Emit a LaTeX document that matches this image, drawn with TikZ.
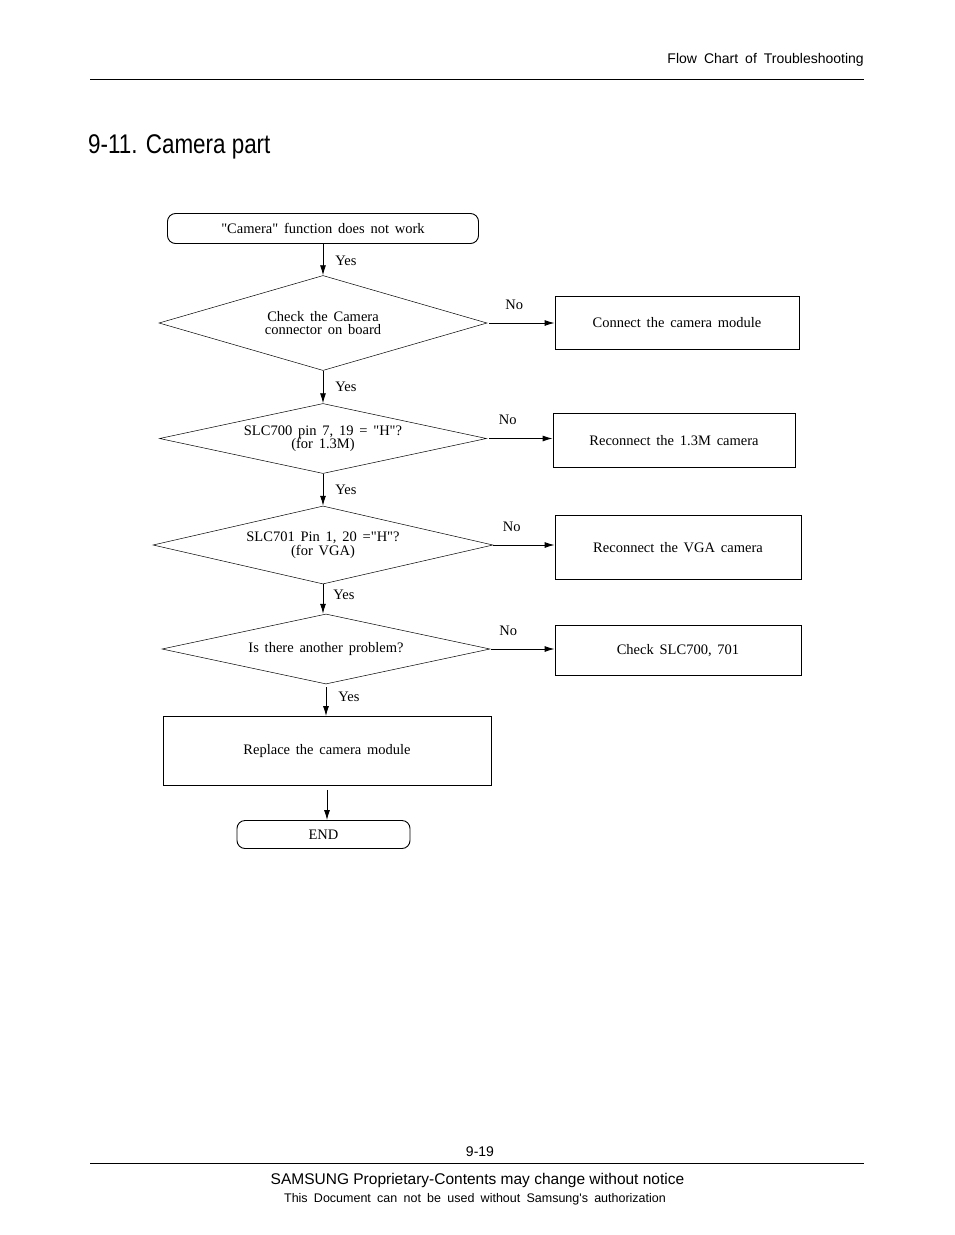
\documentclass[tikz,border=0pt]{standalone}
\usepackage{fontspec}
\setmainfont{Liberation Serif}[WordSpace=1.6,Ligatures=TeXOff]
\newfontfamily\footfont{Liberation Sans}[Ligatures=TeXOff]
\newfontfamily\titlefont{Liberation Sans}[FakeStretch=0.83]
\usetikzlibrary{arrows.meta,shapes.geometric}
\newcommand{\widespace}[1]{\spaceskip=#1\relax}

\begin{document}
\begin{tikzpicture}[x=1pt,y=-1pt,
		every node/.style={font=\fontsize{14.5}{13.5}\selectfont},
		startstop/.style={draw,line width=0.9pt,rounded corners=8pt,inner sep=0pt},
		decision/.style={draw,diamond,line width=0.5pt,inner sep=0pt,align=center},
		process/.style={draw,line width=0.9pt,inner sep=0pt,align=center},
		flow/.style={line width=0.9pt,-{Latex[length=10pt,width=6pt]}},
		yeslabel/.style={right=12pt,inner sep=0pt,font=\fontsize{14.5}{14}\selectfont},
		nolabel/.style={above=13pt,inner sep=0pt,font=\fontsize{14.5}{14}\selectfont}]
				\useasboundingbox (0,0) rectangle (954,1235);
				
				% page head
				\node[anchor=base east,inner sep=0pt,font=\footfont\fontsize{14}{14}\selectfont] (head) at (864,63) {\widespace{7pt}Flow Chart of Troubleshooting};
				\draw[line width=1pt] (90,79) -- (864,79);
				\node[anchor=base west,inner sep=0pt,font=\titlefont\fontsize{27}{27}\selectfont] (title) at (88,153) {9-11. Camera part};
				
				% flow
				\node[startstop,minimum width=311pt,minimum height=30pt] (start) at (323,228.5) {"Camera" function does not work};
				\node[decision,minimum width=328pt,minimum height=95pt,shape aspect=3.45] (chk) at (323,323) {Check the Camera\\connector on board};
				\node[decision,minimum width=327pt,minimum height=70pt,shape aspect=4.67] (slc700) at (323,438.5) {SLC700 pin 7, 19 = "H"?\\(for 1.3M)};
				\node[decision,minimum width=340pt,minimum height=78pt,shape aspect=4.36] (slc701) at (323,545) {SLC701 Pin 1, 20 ="H"?\\(for VGA)};
				\node[decision,minimum width=328pt,minimum height=70pt,shape aspect=4.69] (other) at (326,649) {Is there another problem?};
				\node[process,minimum width=328pt,minimum height=69pt] (repl) at (327,751) {Replace the camera module};
				\node[startstop,minimum width=173pt,minimum height=28pt] (end) at (323.5,834.5) {END};
				
				\node[process,minimum width=244pt,minimum height=53pt] (conn) at (677,323) {Connect the camera module};
				\node[process,minimum width=242pt,minimum height=54pt] (recm) at (674,440.5) {Reconnect the 1.3M camera};
				\node[process,minimum width=246pt,minimum height=64pt] (recvga) at (678,547.5) {Reconnect the VGA camera};
				\node[process,minimum width=246pt,minimum height=50pt] (chkslc) at (678,650.5) {Check SLC700, 701};
				
				\draw[flow] (start) -- node[yeslabel,yshift=-1pt]{Yes} (chk);
				\draw[flow] (chk) -- node[yeslabel]{Yes} (slc700);
				\draw[flow] (slc700) -- node[yeslabel]{Yes} (slc701);
				\draw[flow] (slc701.south) -- node[yeslabel,yshift=4pt,xshift=-2pt]{Yes} (slc701.south |- other.north);
				\draw[flow,shorten <=3pt] (other.south) -- node[yeslabel,yshift=3pt]{Yes} (other.south |- repl.north);
				\draw[flow,shorten <=4pt] (repl.south) -- (repl.south |- end.north);
				
				\draw[flow,shorten <=2pt] (chk) -- node[nolabel,pos=0.4]{No} (conn);
				\draw[flow,shorten <=2pt] (slc700.east) -- node[nolabel,pos=0.32]{No} (slc700.east -| recm.west);
				\draw[flow] (slc701.east) -- node[nolabel,pos=0.3]{No} (slc701.east -| recvga.west);
				\draw[flow,shorten <=1pt] (other.east) -- node[nolabel,pos=0.28]{No} (other.east -| chkslc.west);
				
				% page foot
				\node[inner sep=0pt,font=\footfont\fontsize{14}{14}\selectfont] (page) at (480,1152) {9-19};
				\draw[line width=1pt] (90,1163) -- (864,1163);
				\node[inner sep=0pt,font=\footfont\fontsize{15.5}{15.5}\selectfont] (notice) at (477.5,1180) {SAMSUNG Proprietary-Contents may change without notice};
				\node[inner sep=0pt,font=\footfont\fontsize{12.5}{12.5}\selectfont] (auth) at (475,1199) {\widespace{6.25pt}This Document can not be used without Samsung's authorization};
			\end{tikzpicture}
\end{document}
